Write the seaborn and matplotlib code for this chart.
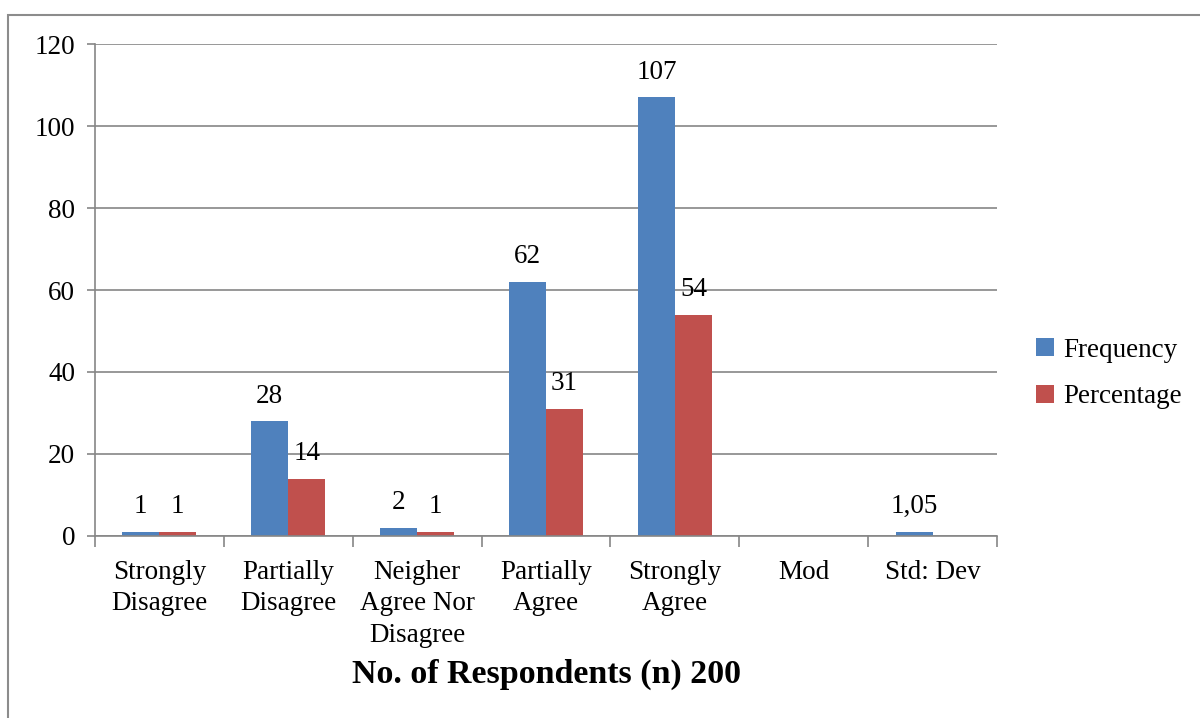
import matplotlib.pyplot as plt
import seaborn as sns
import numpy as np
import pandas as pd
from matplotlib.patches import Rectangle

# Survey response distribution (n = 200)
categories = ['Strongly\nDisagree', 'Partially\nDisagree', 'Neigher\nAgree Nor\nDisagree',
              'Partially\nAgree', 'Strongly\nAgree', 'Mod', 'Std: Dev']
frequency = [1, 28, 2, 62, 107, np.nan, 1.05]
percentage = [1, 14, 1, 31, 54, np.nan, np.nan]
series = ['Frequency', 'Percentage']
colors = ['#4F81BD', '#C0504D']

df = pd.DataFrame({
    'category': categories * 2,
    'series': [series[0]] * len(categories) + [series[1]] * len(categories),
    'value': frequency + percentage,
})

sns.set_style('white')
plt.rcParams['font.family'] = ['Liberation Serif', 'DejaVu Serif']
plt.rcParams['text.color'] = 'black'
plt.rcParams['xtick.color'] = 'black'
plt.rcParams['ytick.color'] = 'black'
fs = 19.5

fig = plt.figure(figsize=(12, 7.18), dpi=100)
ax = fig.add_axes([0.079, 0.2535, 0.752, 0.6852])

sns.barplot(data=df, x='category', y='value', hue='series', palette=colors,
            width=0.575, saturation=1, linewidth=0, ax=ax, legend=True)

# value labels
def fmt(v):
    if float(v).is_integer():
        return str(int(v))
    return f'{v:g}'.replace('.', ',')

for cont in ax.containers:
    for bar in cont:
        h = bar.get_height()
        if np.isnan(h):
            continue
        ax.annotate(fmt(h), (bar.get_x() + bar.get_width() / 2, h),
                    xytext=(0, 18), textcoords='offset points',
                    ha='center', va='center', fontsize=fs)

ax.set_ylim(0, 120)
ax.set_xlim(-0.5, len(categories) - 0.5)
ax.set_yticks(range(0, 121, 20))
ax.yaxis.grid(True, color='#868686', linewidth=1.2)
ax.set_axisbelow(True)
for s in ['top', 'right']:
    ax.spines[s].set_visible(False)
for s in ['left', 'bottom']:
    ax.spines[s].set_color('#868686')
    ax.spines[s].set_linewidth(1.2)

ax.tick_params(axis='y', left=True, length=6, color='#868686', width=1.2,
               labelsize=fs, labelcolor='black', pad=8)
ax.tick_params(axis='x', which='major', bottom=True, length=0, labelsize=fs,
               labelcolor='black', pad=17)
ax.set_xticks(np.arange(-0.5, len(categories)), minor=True)
ax.tick_params(axis='x', which='minor', bottom=True, length=8, color='#868686', width=1.2)
for t in ax.get_xticklabels():
    t.set_va('top')
    t.set_linespacing(1.35)

ax.set_ylabel('')
ax.set_xlabel('No. of Respondents (n) 200', fontsize=24.5, fontweight='bold',
              labelpad=8, color='black')

ax.legend(title=None, loc='center left', bbox_to_anchor=(1.016, 0.33), frameon=False,
          fontsize=fs, handlelength=0.65, handleheight=0.65, handletextpad=0.35,
          labelspacing=0.8)

# outer chart frame
fig.patches.append(Rectangle((0.007, -0.05), 1.1, 1.029, transform=fig.transFigure,
                             fill=False, edgecolor='#8c8c8c', linewidth=1.5))

fig.savefig('out.png', dpi=100)
